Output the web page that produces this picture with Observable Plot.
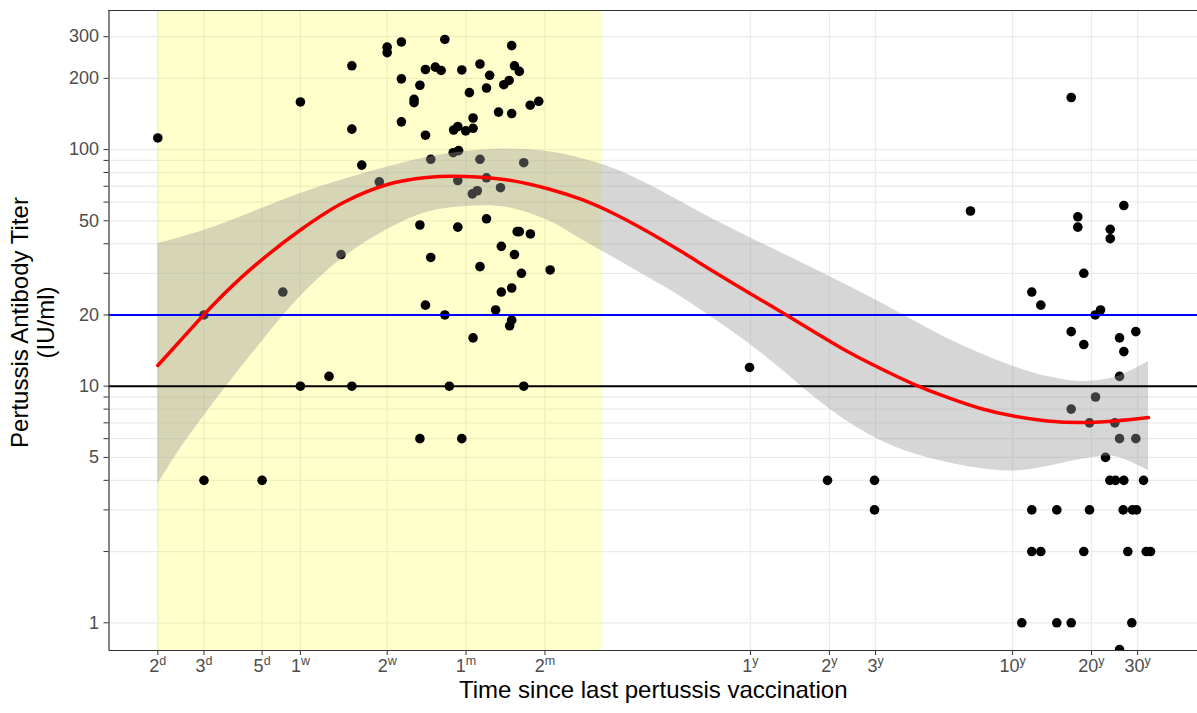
<!DOCTYPE html>
<html><head><meta charset="utf-8">
<script src="https://cdn.jsdelivr.net/npm/d3@7"></script>
<script src="https://cdn.jsdelivr.net/npm/@observablehq/plot@0.6"></script>
<style>body{margin:0;background:#fff}</style>
</head><body><div id="chart"></div>
<script>
// ---- data ----
const xTickDays = [2,3,5,7,15,30,60,365,730,1095,3650,7300,10950];
const xTickNum  = ["2","3","5","1","2","1","2","1","2","3","10","20","30"];
const xTickUnit = ["d","d","d","w","w","m","m","y","y","y","y","y","y"];
const yTickValues = [1,2,3,4,5,6,7,8,9,10,20,30,40,50,60,70,80,90,100,200,300];
const yTickLabeled = [1,5,10,20,50,100,200,300];

const shadeStart = 2, shadeEnd = 99;
const refBlue = 20, refBlack = 10;

const pointDays = [2,7,11,11,12,14,6,10,15,15,17,17,17,20,19,19,21,22.9,24.1,24.9,28.9,33.9,36.9,35.9,30.9,44.8,45.9,47.9,43.8,41.8,39.9,44.8,52.7,56.8,21,26.9,27.9,29.9,31.9,31.9,26.8,28.1,22,33.9,49.8,27.9,35.9,31.7,33.1,40.6,35.9,20,27.9,47,47.9,52.8,40.9,45.9,22,33.9,48.8,62.8,44.8,40.9,21,38.9,24.9,3,44.8,44,31.9,7,9,11,25.9,49.8,20,28.9,3,5,
  362,718,1085,1085,2522,
  6109,9700,6474,6474,8608,8608,6823,4321,4677,7906,7544,6109,10776,9340,6823,9700,9340,7565,6109,7175,8963,9340,10776,8257,
  8578,9017,9700,11532,
  4321,5383,7175,9648,10467,10843,
  4321,4677,6823,10044,11806,12260,
  3958,5383,6109,10404,
  9340];
const pointTiter = [112,159,226,122,86,73,25,36,271,257,285,199,131,187,163,158,218,223,216,292,217,230,206,182,174,275,226,214,196,188,144,142,154,160,115,121,125,120,123,136,97,99,91,91,88,74,76,65,67,69,51,48,47,45,45,44,39,36,35,32,30,31,26,25,22,21,20,20,19,18,16,10,11,10,10,10,6,6,4,4,
  12,4,4,3,55,
  166,58,52,47,46,42,30,25,22,21,20,17,17,16,15,14,11,9,8,7,7,6,6,5,
  4,4,4,4,
  3,3,3,3,3,3,
  2,2,2,2,2,2,
  1,1,1,1,
  0.77];

const smoothDays  = [2,2.441,3.32,4.558,7.0,10.22,15.04,21.2,29.9,43.2,63.0,82.7,109.6,146.4,197.4,263.8,355.7,475.2,635.2,856,1143.8,1528,2060,2754,3681,4961,6630,8940,12048];
const smoothFit   = [12.23,15.60,22.59,31.45,45.74,59.77,71.20,76.22,76.96,74.38,67.83,61.53,53.70,45.29,37.27,30.53,25.01,20.69,17.03,14.02,11.88,10.21,8.96,8.05,7.48,7.13,7.02,7.13,7.37];
const smoothUpper = [40.1,42.51,47.32,54.22,65.25,74.74,84.43,92.60,98.17,100.6,97.7,91.7,83.2,71.9,60.35,50.65,42.93,36.74,31.45,26.65,22.59,18.95,15.91,13.75,12.12,10.99,10.47,10.88,12.72];
const smoothLower = [3.84,5.45,8.70,13.61,23.94,34.99,45.96,54.22,57.48,56.92,49.67,41.69,34.99,29.08,23.94,19.32,15.30,11.88,9.05,7.09,5.90,5.19,4.76,4.49,4.38,4.58,4.90,5.05,4.40];

const xTitle = "Time since last pertussis vaccination";
const yTitle = "Pertussis Antibody Titer\n(IU/ml)";

// ---- tables ----
const points = pointDays.map((d, i) => ({days: d, titer: pointTiter[i]}));
const smooth = smoothDays.map((d, i) => ({days: d, fit: smoothFit[i], lo: smoothLower[i], hi: smoothUpper[i]}));
const xTicks = xTickDays.map((d, i) => ({days: d, label: xTickNum[i] + "^" + xTickUnit[i]}));

const xDomain = [1.3026, 18528];
const yDomain = [0.7636, 387.1];
const font = "Liberation Sans, Arial, sans-serif";

const chart = Plot.plot({
  width: 1197, height: 713,
  marginLeft: 108.5, marginRight: 0, marginTop: 10, marginBottom: 63,
  style: {fontFamily: font, fontSize: "17px", color: "#333333", background: "#fff"},
  x: {type: "log", domain: xDomain, ticks: xTickDays, tickFormat: () => "", tickSize: 5, label: null},
  y: {type: "log", domain: yDomain, ticks: yTickValues, tickFormat: () => "", tickSize: 5, label: null},
  marks: [
    Plot.ruleY(yTickValues, {stroke: "#ebebeb", strokeWidth: 1.3}),
    Plot.ruleX(xTickDays, {stroke: "#ebebeb", strokeWidth: 1.3}),
    Plot.rect([{x1: shadeStart, x2: shadeEnd}], {x1: "x1", x2: "x2", fill: "yellow", fillOpacity: 0.2}),
    Plot.dot(points, {x: "days", y: "titer", r: 4.8, fill: "black", clip: true}),
    Plot.areaY(smooth, {x: "days", y1: "lo", y2: "hi", fill: "#999999", fillOpacity: 0.4, curve: "catmull-rom"}),
    Plot.ruleY([refBlue], {stroke: "#0000ff", strokeWidth: 2}),
    Plot.ruleY([refBlack], {stroke: "black", strokeWidth: 2}),
    Plot.line(smooth, {x: "days", y: "fit", stroke: "#ff0000", strokeWidth: 3.5, curve: "catmull-rom"}),
    Plot.ruleY([yDomain[1]], {stroke: "#333333", strokeWidth: 1.2}),
    Plot.ruleY([yDomain[0]], {stroke: "#333333", strokeWidth: 1.2}),
    Plot.ruleX([xDomain[0]], {stroke: "#333333", strokeWidth: 1.2}),
    // tick labels
    Plot.text(xTicks, {x: "days", text: "label", frameAnchor: "bottom", dy: 21, fontSize: 18, fill: "#4d4d4d"}),
    Plot.text(yTickLabeled, {y: d => d, text: d => String(d), frameAnchor: "left", dx: -10, textAnchor: "end", fontSize: 18, fill: "#4d4d4d"}),
    // axis titles
    Plot.text([xTitle], {text: d => d, frameAnchor: "bottom", dy: 47, fontSize: 24, fill: "black"}),
    Plot.text([yTitle], {text: d => d, frameAnchor: "left", dx: -76, dy: -8, rotate: -90, textAnchor: "middle", fontSize: 24, lineHeight: 1.08, fill: "black"})
  ]
});

// superscript units on x tick labels
const ns = "http://www.w3.org/2000/svg";
chart.querySelectorAll("text").forEach(t => {
  const s = t.textContent;
  if (!s.includes("^")) return;
  const [a, b] = s.split("^");
  while (t.firstChild) t.removeChild(t.firstChild);
  const t1 = document.createElementNS(ns, "tspan"); t1.textContent = a;
  const t2 = document.createElementNS(ns, "tspan"); t2.textContent = b;
  t2.setAttribute("dy", "-0.5em"); t2.setAttribute("font-size", "12.5px");
  t.append(t1, t2);
});

document.getElementById("chart").append(chart);
</script>
</body></html>
